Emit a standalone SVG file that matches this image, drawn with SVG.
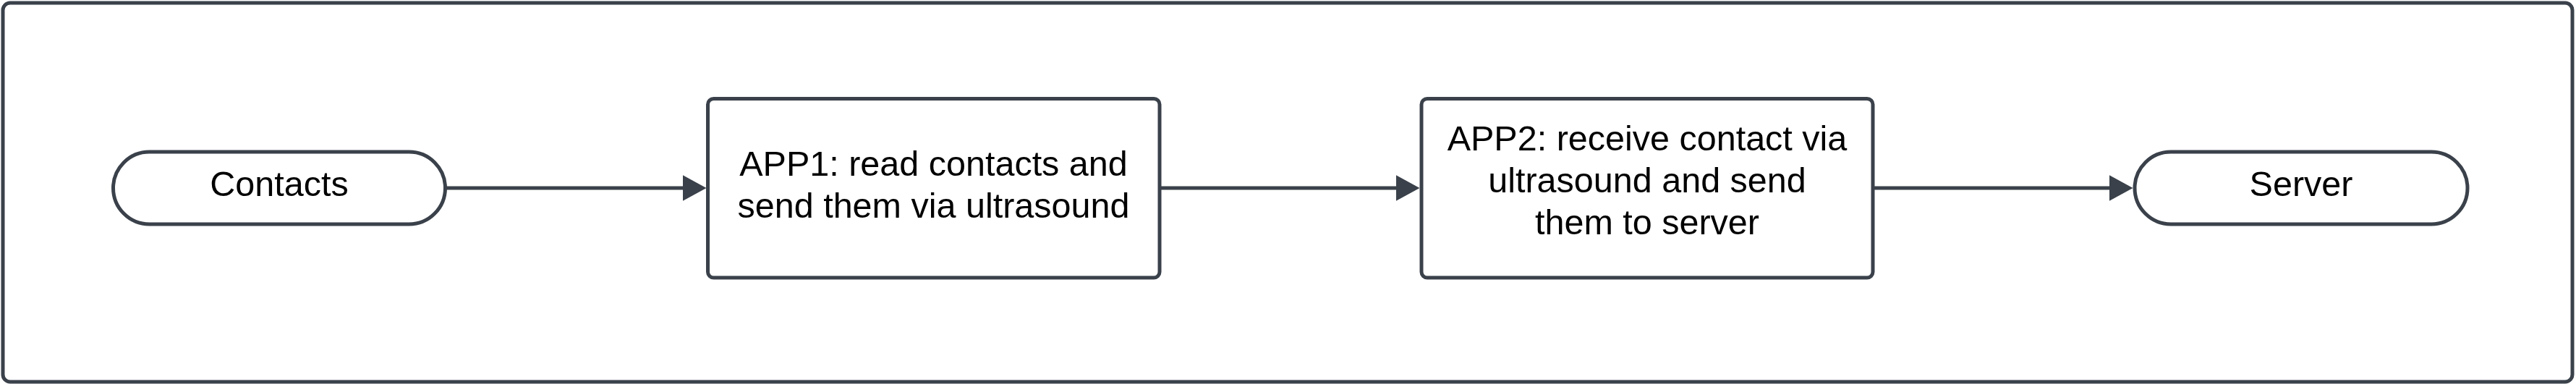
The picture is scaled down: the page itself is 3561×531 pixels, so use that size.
<svg xmlns="http://www.w3.org/2000/svg" width="3561" height="531" viewBox="0 0 3561 531">
<style>
.shape{fill:#ffffff;stroke:#3a414a;stroke-width:5}
.lbl{font-family:"Liberation Sans",Arial,sans-serif;font-size:48.5px;fill:#000000;text-anchor:middle}
.conn{stroke:#3a414a;stroke-width:5;fill:none}
</style>
<defs>
<marker id="arrow" viewBox="0 0 33 36" refX="13" refY="18" markerWidth="33" markerHeight="36" markerUnits="userSpaceOnUse" orient="auto">
<path d="M0,0 L33,18 L0,36 Z" fill="#3a414a"/>
</marker>
</defs>
<rect x="4" y="4" width="3552" height="524" rx="10" class="shape"/>
<g id="connectors">
<line class="conn" x1="615.5" y1="260" x2="956.5" y2="260" marker-end="url(#arrow)"/>
<line class="conn" x1="1603" y1="260" x2="1942.5" y2="260" marker-end="url(#arrow)"/>
<line class="conn" x1="2589" y1="260" x2="2928.5" y2="260" marker-end="url(#arrow)"/>
</g>
<g id="contacts">
<rect x="156.5" y="210" width="459" height="100" rx="50" class="shape"/>
<text class="lbl" x="386" y="271">Contacts</text>
</g>
<g id="app1">
<rect x="978.5" y="136.5" width="624.5" height="247.5" rx="8" class="shape"/>
<text class="lbl" x="1290.5" y="243">APP1: read contacts and</text>
<text class="lbl" x="1290.5" y="301">send them via ultrasound</text>
</g>
<g id="app2">
<rect x="1965" y="136.5" width="624" height="247.5" rx="8" class="shape"/>
<text class="lbl" x="2277" y="208">APP2: receive contact via</text>
<text class="lbl" x="2277" y="266">ultrasound and send</text>
<text class="lbl" x="2277" y="324">them to server</text>
</g>
<g id="server">
<rect x="2951" y="210" width="460" height="100" rx="50" class="shape"/>
<text class="lbl" x="3181" y="271">Server</text>
</g>
</svg>
